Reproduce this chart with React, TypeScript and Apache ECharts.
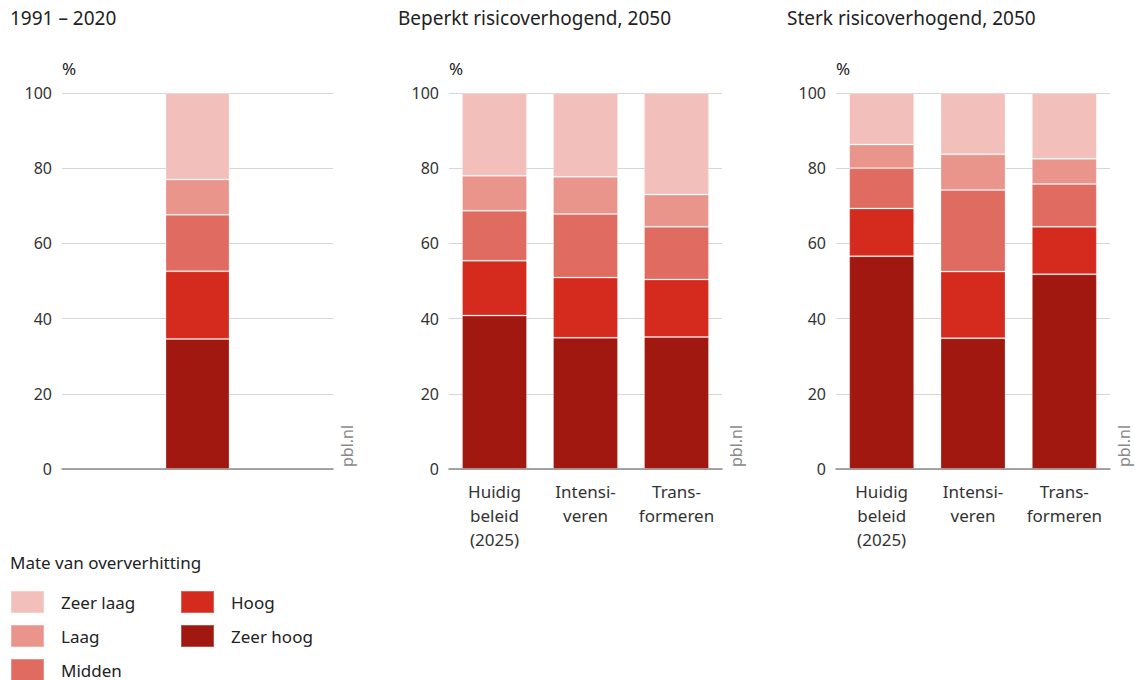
import React, { useEffect, useRef } from "react";
import * as echarts from "echarts";

const levels = ["Zeer hoog", "Hoog", "Midden", "Laag", "Zeer laag"];
const levelColors = ["#A01810", "#D42B1E", "#E06B60", "#EA958C", "#F2BFBA"];
const scenarioCategories = ["Huidig\nbeleid\n(2025)", "Intensi-\nveren", "Trans-\nformeren"];
const historicCategories = [""];
const panelTitles = ["1991 – 2020", "Beperkt risicoverhogend, 2050", "Sterk risicoverhogend, 2050"];
const yTicks = [0, 20, 40, 60, 80, 100];

// 1991 – 2020 (one bar)
const historicZeerHoog = [34.6];
const historicHoog = [18.0];
const historicMidden = [15.0];
const historicLaag = [9.4];
const historicZeerLaag = [23.0];

// Beperkt risicoverhogend, 2050
const beperktZeerHoog = [40.8, 34.9, 35.1];
const beperktHoog = [14.6, 16.0, 15.3];
const beperktMidden = [13.3, 16.9, 14.0];
const beperktLaag = [9.3, 9.9, 8.6];
const beperktZeerLaag = [22.0, 22.3, 27.0];

// Sterk risicoverhogend, 2050
const sterkZeerHoog = [56.6, 34.8, 51.8];
const sterkHoog = [12.7, 17.7, 12.6];
const sterkMidden = [10.7, 21.7, 11.4];
const sterkLaag = [6.3, 9.5, 6.7];
const sterkZeerLaag = [13.7, 16.3, 17.5];

// legend layout order (column-major)
const legendOrder = ["Zeer laag", "Laag", "Midden", "Hoog", "Zeer hoog"];

const FONT = "Noto Sans";

export default function App() {
  const ref = useRef<HTMLDivElement>(null);

  useEffect(() => {
    if (!ref.current) return;
    const chart = echarts.init(ref.current, undefined, { renderer: "svg" });

    const panels = [
      { cats: historicCategories, data: [historicZeerHoog, historicHoog, historicMidden, historicLaag, historicZeerLaag], left: 62, width: 271, barWidth: 64 },
      { cats: scenarioCategories, data: [beperktZeerHoog, beperktHoog, beperktMidden, beperktLaag, beperktZeerLaag], left: 449, width: 273, barWidth: 65 },
      { cats: scenarioCategories, data: [sterkZeerHoog, sterkHoog, sterkMidden, sterkLaag, sterkZeerLaag], left: 836, width: 274, barWidth: 65 },
    ];

    const grid: any[] = [];
    const xAxis: any[] = [];
    const yAxis: any[] = [];
    const series: any[] = [];
    const graphic: any[] = [];

    panels.forEach((p, i) => {
      grid.push({ left: p.left, width: p.width, top: 93, bottom: 211, containLabel: false });
      xAxis.push({
        type: "category",
        gridIndex: i,
        data: p.cats,
        axisLine: { show: true, lineStyle: { color: "#8a8a8a", width: 1.5 } },
        axisTick: { show: false },
        axisLabel: {
          show: i > 0,
          color: "#333",
          fontFamily: FONT,
          fontSize: 17,
          lineHeight: 24,
          margin: 10,
          interval: 0,
        },
      });
      yAxis.push({
        type: "value",
        gridIndex: i,
        min: yTicks[0],
        max: yTicks[yTicks.length - 1],
        interval: 20,
        name: "%",
        nameLocation: "end",
        nameGap: 16,
        nameTextStyle: { color: "#222", fontFamily: FONT, fontSize: 17, align: "left" },
        axisLine: { show: false },
        axisTick: { show: false },
        axisLabel: { color: "#333", fontFamily: FONT, fontSize: 16, margin: 10 },
        splitLine: { show: true, lineStyle: { color: "#d6d6d6", width: 1 } },
      });
      levels.forEach((lv, k) => {
        series.push({
          type: "bar",
          name: lv,
          xAxisIndex: i,
          yAxisIndex: i,
          stack: "panel" + i,
          barWidth: p.barWidth,
          data: p.data[k],
          itemStyle: { color: levelColors[k], borderColor: "rgba(255,255,255,0.25)", borderWidth: 1 },
        });
      });
      graphic.push({
        type: "text",
        x: p.left + p.width + 14,
        y: 467,
        rotation: Math.PI / 2,
        style: { text: "pbl.nl", fill: "#8a8a8a", font: `16px "${FONT}"`, textAlign: "left", textVerticalAlign: "middle" },
      });
    });

    const titleLefts = [10, 398, 787];
    const title: any[] = panelTitles.map((t, i) => ({
      text: t,
      left: titleLefts[i],
      top: 8,
      padding: 0,
      textStyle: { color: "#222", fontFamily: FONT, fontSize: 19, fontWeight: "normal" },
    }));
    title.push({
      text: "Mate van oververhitting",
      left: 10,
      top: 554,
      padding: 0,
      textStyle: { color: "#222", fontFamily: FONT, fontSize: 17, fontWeight: "normal" },
    });

    const legend = legendOrder.map((name, idx) => {
      const col = idx < 3 ? 0 : 1;
      const row = idx < 3 ? idx : idx - 3;
      return {
        orient: "horizontal",
        left: col === 0 ? 10 : 180,
        top: 590 + row * 34,
        padding: 0,
        itemWidth: 33,
        itemHeight: 22,
        icon: "rect",
        selectedMode: false,
        data: [name],
        textStyle: { color: "#222", fontFamily: FONT, fontSize: 17, padding: [0, 0, 0, 12] },
      };
    });

    chart.setOption({
      animation: false,
      backgroundColor: "#ffffff",
      title,
      legend,
      grid,
      xAxis,
      yAxis,
      series,
      graphic,
    });

    return () => chart.dispose();
  }, []);

  return <div ref={ref} style={{ position: "fixed", left: 0, top: 0, width: 1135, height: 680 }} />;
}
